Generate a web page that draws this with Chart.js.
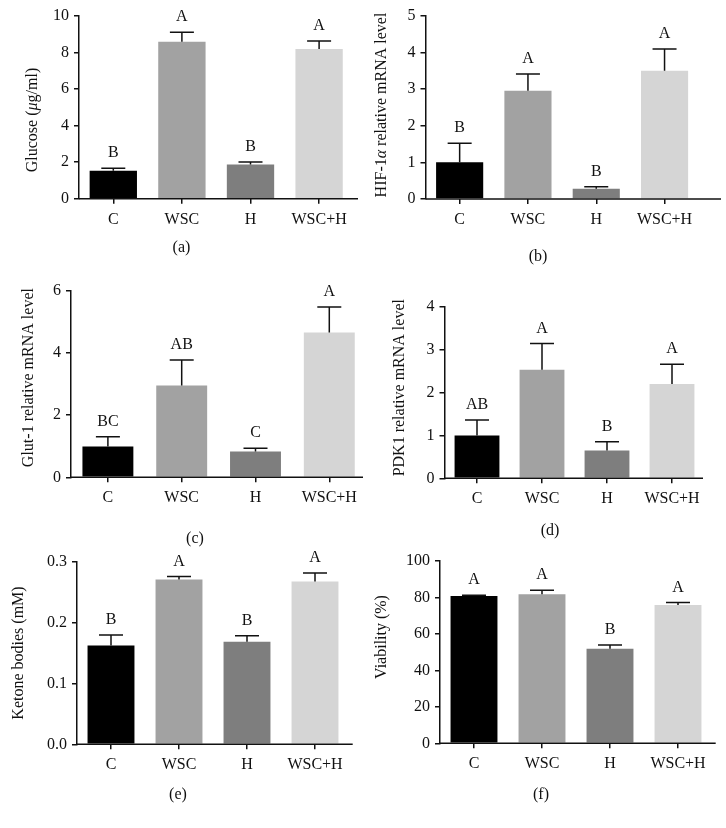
<!DOCTYPE html>
<html>
<head>
<meta charset="utf-8">
<script src="https://cdn.jsdelivr.net/npm/chart.js@4.4.1/dist/chart.umd.min.js"></script>
<style>
  body { margin: 0; background: #fff; width: 726px; height: 828px; position: relative; overflow: hidden; }
  .panel { position: absolute; }
</style>
</head>
<body>
<div class="panel" style="left:0;top:0;width:363px;height:276px"><canvas id="chartA"></canvas></div>
<div class="panel" style="left:363px;top:0;width:363px;height:276px"><canvas id="chartB"></canvas></div>
<div class="panel" style="left:0;top:276px;width:370px;height:276px"><canvas id="chartC"></canvas></div>
<div class="panel" style="left:363px;top:276px;width:363px;height:276px"><canvas id="chartD"></canvas></div>
<div class="panel" style="left:0;top:540px;width:363px;height:288px"><canvas id="chartE"></canvas></div>
<div class="panel" style="left:363px;top:540px;width:363px;height:288px"><canvas id="chartF"></canvas></div>
<script>
// datos
const groups = ["C", "WSC", "H", "WSC+H"];

const glucoseMean = [1.53, 8.58, 1.87, 8.18];
const glucoseSem = [0.13, 0.51, 0.13, 0.44];
const glucoseLetters = ["B", "A", "B", "A"];

const hifMean = [1.0, 2.95, 0.28, 3.50];
const hifSem = [0.52, 0.46, 0.055, 0.59];
const hifLetters = ["B", "A", "B", "A"];

const glutMean = [0.99, 2.95, 0.83, 4.65];
const glutSem = [0.31, 0.82, 0.10, 0.82];
const glutLetters = ["BC", "AB", "C", "A"];

const pdkMean = [1.0, 2.53, 0.65, 2.20];
const pdkSem = [0.36, 0.61, 0.20, 0.46];
const pdkLetters = ["AB", "A", "B", "A"];

const ketoneMean = [0.162, 0.270, 0.168, 0.267];
const ketoneSem = [0.017, 0.005, 0.010, 0.014];
const ketoneLetters = ["B", "A", "B", "A"];

const viabMean = [80.8, 81.8, 51.9, 75.8];
const viabSem = [0.4, 2.2, 2.0, 1.4];
const viabLetters = ["A", "A", "B", "A"];

const barColors = ["#000000", "#a2a2a2", "#7e7e7e", "#d5d5d5"];
const FONT = "'Liberation Serif', 'Times New Roman', serif";
const FS = 16;
const INK = "#111";

// plugin para barras de error, letras, titulo del eje y etiqueta del panel
const decor = {
  id: "decor",
  afterDatasetsDraw(chart, args, opts) {
    const ctx = chart.ctx;
    const yScale = chart.scales.y;
    const meta = chart.getDatasetMeta(0);
    const area = chart.chartArea;
    ctx.save();
    ctx.strokeStyle = INK;
    ctx.fillStyle = INK;
    ctx.lineWidth = 1.5;
    // linea del eje x
    ctx.beginPath();
    ctx.moveTo(area.left, area.bottom);
    ctx.lineTo(opts.lineEnd, area.bottom);
    ctx.stroke();
    ctx.font = FS + "px " + FONT;
    ctx.textAlign = "center";
    ctx.textBaseline = "alphabetic";
    meta.data.forEach((bar, i) => {
      const top = yScale.getPixelForValue(opts.mean[i] + opts.sem[i]);
      ctx.beginPath();
      ctx.moveTo(bar.x, bar.y);
      ctx.lineTo(bar.x, top);
      ctx.moveTo(bar.x - 12, top);
      ctx.lineTo(bar.x + 12, top);
      ctx.stroke();
      ctx.fillText(opts.letters[i], bar.x, top - 11);
    });
    ctx.restore();
  },
  afterDraw(chart, args, opts) {
    const ctx = chart.ctx;
    ctx.save();
    ctx.fillStyle = INK;
    // titulo vertical, con partes en cursiva
    ctx.translate(opts.titleX, opts.titleY);
    ctx.rotate(-Math.PI / 2);
    ctx.textBaseline = "middle";
    ctx.textAlign = "left";
    let total = 0;
    opts.title.forEach(([txt, it]) => {
      ctx.font = (it ? "italic " : "") + FS + "px " + FONT;
      total += ctx.measureText(txt).width;
    });
    let x = -total / 2;
    opts.title.forEach(([txt, it]) => {
      ctx.font = (it ? "italic " : "") + FS + "px " + FONT;
      ctx.fillText(txt, x, 0);
      x += ctx.measureText(txt).width;
    });
    ctx.restore();
    ctx.save();
    ctx.fillStyle = INK;
    ctx.font = FS + "px " + FONT;
    ctx.textAlign = "center";
    ctx.textBaseline = "middle";
    ctx.fillText(opts.label, opts.labelX, opts.labelY);
    ctx.restore();
  }
};

function makeChart(id, p) {
  const box = p.box;
  const cfg = {
    type: "bar",
    data: {
      labels: groups,
      datasets: [{
        data: p.mean,
        backgroundColor: barColors,
        borderWidth: 0,
        barPercentage: 0.69,
        categoryPercentage: 1
      }]
    },
    options: {
      responsive: true,
      maintainAspectRatio: false,
      animation: false,
      layout: {
        padding: { top: p.area.t - box.t, right: box.l + box.w - p.area.r, left: 0, bottom: 0 }
      },
      plugins: {
        legend: { display: false },
        tooltip: { enabled: false },
        decor: {
          mean: p.mean, sem: p.sem, letters: p.letters, title: p.title, label: p.label,
          lineEnd: p.lineEnd - box.l,
          titleX: p.titlePos[0] - box.l, titleY: p.titlePos[1] - box.t,
          labelX: p.labelPos[0] - box.l, labelY: p.labelPos[1] - box.t
        }
      },
      scales: {
        x: {
          afterFit: s => { s.height = box.t + box.h - p.area.b; },
          border: { display: false },
          grid: { display: true, offset: false, drawOnChartArea: false, drawTicks: true, tickLength: 5, color: INK, lineWidth: 1.5 },
          ticks: { color: INK, padding: 6, font: { family: FONT, size: FS }, maxRotation: 0 }
        },
        y: {
          min: 0,
          max: p.max,
          afterFit: s => { s.width = p.area.l - box.l; },
          border: { display: true, color: INK, width: 1.5 },
          grid: { display: true, drawOnChartArea: false, drawTicks: true, tickLength: 5, color: INK, lineWidth: 1.5 },
          ticks: {
            stepSize: p.step,
            color: INK,
            padding: 5,
            font: { family: FONT, size: FS },
            callback: v => p.fmt ? v.toFixed(p.fmt) : v
          }
        }
      }
    },
    plugins: [decor]
  };
  return new Chart(document.getElementById(id), cfg);
}

makeChart("chartA", {
  box: { l: 0, t: 0, w: 363, h: 276 }, area: { l: 79, t: 15.7, r: 353.4, b: 198.7 }, lineEnd: 358,
  mean: glucoseMean, sem: glucoseSem, letters: glucoseLetters, max: 10, step: 2,
  title: [["Glucose (", false], ["\u03bc", true], ["g/ml)", false]], titlePos: [33, 120],
  label: "(a)", labelPos: [181.5, 248]
});
makeChart("chartB", {
  box: { l: 363, t: 0, w: 363, h: 276 }, area: { l: 425.5, t: 15.7, r: 698.7, b: 199 }, lineEnd: 721,
  mean: hifMean, sem: hifSem, letters: hifLetters, max: 5, step: 1,
  title: [["HIF-1", false], ["\u03b1", true], [" relative mRNA level", false]], titlePos: [382, 105],
  label: "(b)", labelPos: [538, 257]
});
makeChart("chartC", {
  box: { l: 0, t: 276, w: 370, h: 276 }, area: { l: 71, t: 280, r: 366.2, b: 477.3 }, lineEnd: 363,
  mean: glutMean, sem: glutSem, letters: glutLetters, max: 6, step: 2,
  title: [["Glut-1 relative mRNA level", false]], titlePos: [29, 377.6],
  label: "(c)", labelPos: [195, 539]
});
makeChart("chartD", {
  box: { l: 363, t: 276, w: 363, h: 276 }, area: { l: 444.5, t: 306.7, r: 704.5, b: 478.3 }, lineEnd: 703,
  mean: pdkMean, sem: pdkSem, letters: pdkLetters, max: 4, step: 1,
  title: [["PDK1 relative mRNA level", false]], titlePos: [400, 387.7],
  label: "(d)", labelPos: [550, 531]
});
makeChart("chartE", {
  box: { l: 0, t: 540, w: 363, h: 288 }, area: { l: 77, t: 561.3, r: 349, b: 744.3 }, lineEnd: 352.7,
  mean: ketoneMean, sem: ketoneSem, letters: ketoneLetters, max: 0.3, step: 0.1, fmt: 1,
  title: [["Ketone bodies (mM)", false]], titlePos: [19, 653],
  label: "(e)", labelPos: [178, 795]
});
makeChart("chartF", {
  box: { l: 363, t: 540, w: 363, h: 288 }, area: { l: 440, t: 561, r: 712, b: 743.3 }, lineEnd: 715.7,
  mean: viabMean, sem: viabSem, letters: viabLetters, max: 100, step: 20,
  title: [["Viability (%)", false]], titlePos: [382, 637],
  label: "(f)", labelPos: [541, 795]
});
</script>
</body>
</html>
